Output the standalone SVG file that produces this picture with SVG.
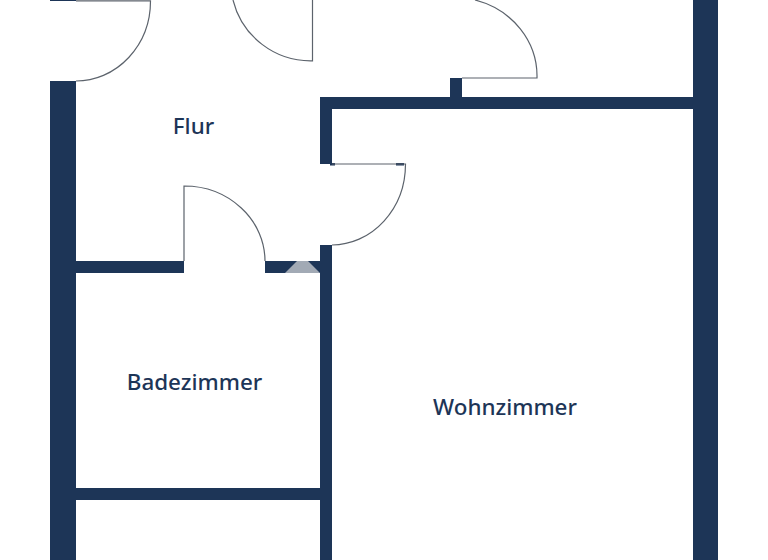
<svg xmlns="http://www.w3.org/2000/svg" width="768" height="560" viewBox="0 0 768 560">
<style>
.wall{fill:#1d3557}
.door{fill:none;stroke:#5c636c;stroke-width:1.2}
.label{font-family:"Noto Sans","Open Sans",sans-serif;font-size:22.4px;font-weight:500;fill:#1d3557;text-anchor:middle}
</style>
<rect width="768" height="560" fill="#fff"/>
<g id="walls">
<rect class="wall" x="50" y="81" width="26" height="479"/>
<rect class="wall" x="50" y="0" width="26" height="1"/>
<rect class="wall" x="693" y="0" width="25" height="560"/>
<rect class="wall" x="320" y="97" width="373" height="12"/>
<rect class="wall" x="320" y="97" width="12" height="67"/>
<rect class="wall" x="450" y="78" width="12" height="20"/>
<rect class="wall" x="320" y="245" width="12" height="315"/>
<rect class="wall" x="76" y="261" width="108" height="12"/>
<rect class="wall" x="265" y="261" width="55" height="12"/>
<rect class="wall" x="76" y="488" width="244" height="12"/>
<polygon points="285,273 297,261 308,261 320,273" fill="#a2aab5"/>
<rect class="wall" x="330" y="163" width="5" height="2.5"/>
<rect class="wall" x="396" y="163" width="8" height="2.5"/>
</g>
<g id="doors">
<path class="door" d="M76 .8H150.500A74.500 80 0 0 1 76 81"/>
<path class="door" d="M312.500 0V60.800A80 80 0 0 1 233 0"/>
<path class="door" d="M462 78H537A84 79 0 0 0 475 0"/>
<path class="door" d="M332 164H405.500A74 81 0 0 1 332 245"/>
<path class="door" d="M184 261V186A81 75 0 0 1 265 261"/>
</g>
<g id="room-flur"><text class="label" x="193.500" y="133.500">Flur</text></g>
<g id="room-badezimmer"><text class="label" x="194.500" y="389.500">Badezimmer</text></g>
<g id="room-wohnzimmer"><text class="label" x="505" y="414.500">Wohnzimmer</text></g>
</svg>
